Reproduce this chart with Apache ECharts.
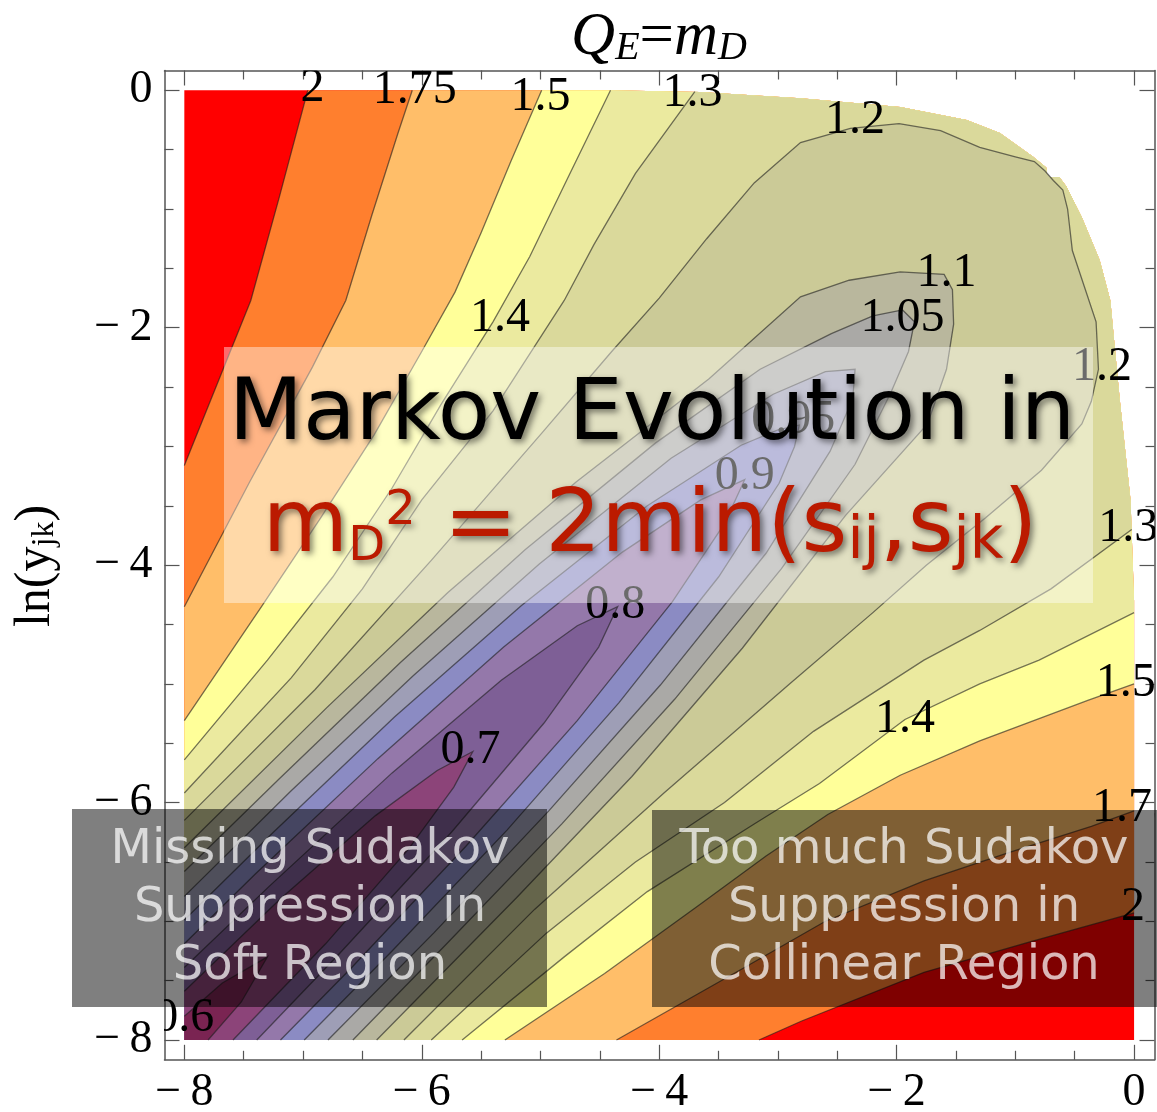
<!DOCTYPE html>
<html><head><meta charset="utf-8">
<script src="https://cdn.jsdelivr.net/npm/echarts@6/dist/echarts.min.js"></script>
<style>html,body{margin:0;padding:0;background:#fff}#c{width:1157px;height:1112px}</style>
</head><body><div id="c"></div>
<script>
// ---------------- data ----------------
const majorTicks = [-8, -6, -4, -2, 0];
const minorTicks = [-7.5, -7, -6.5, -5.5, -5, -4.5, -3.5, -3, -2.5, -1.5, -1, -0.5];
const levels = [2, 1.75, 1.5, 1.4, 1.3, 1.2, 1.1, 1.05, 1.0, 0.95, 0.9, 0.8, 0.7, 0.6];
const colorAbove2 = '#ff0000';
const bandColors = ['#ff7f2e', '#ffbe69', '#ffff99', '#ebea9f', '#dad99b', '#cbca97', '#b9b79d',
  '#aaa9a6', '#9e9eb6', '#8b8bc3', '#9478aa', '#7e5f96', '#8c4479', '#7a2452'];

// upper-right edge of the data region, from (-8,0) clockwise to (0,-8)
const domainEdge = [[-8, 0], [-4.44, 0], [-3.66, -0.015], [-2.81, -0.066], [-1.97, -0.14], [-1.41, -0.25],
  [-1.13, -0.36], [-0.85, -0.56], [-0.74, -0.65], [-0.73, -0.73], [-0.63, -0.73], [-0.57, -0.81],
  [-0.44, -1.07], [-0.29, -1.43], [-0.2, -1.77], [-0.12, -2.61], [-0.03, -3.45], [0, -4.3], [0, -8]];
const corner = [-8, -8];

// contour 2
const c2Up = [[-8, -3.16], [-7.44, -1.77], [-7.2, -0.9], [-6.96, 0]];
const c2Lo = [[0, -6.93], [-0.9, -7.18], [-1.77, -7.43], [-2.8, -7.84], [-3.16, -8]];
// contour 1.75
const c175Up = [[-8, -4.35], [-7.45, -3.3], [-6.92, -2.33], [-6.64, -1.77], [-6.42, -1.05], [-6.2, -0.36], [-6.08, 0]];
const c175Lo = [[0, -6.07], [-0.36, -6.2], [-1.05, -6.42], [-1.77, -6.66], [-2.6, -7.0], [-3.3, -7.4], [-4.36, -8]];
// contour 1.5
const c15Up = [[-8, -5.31], [-7.35, -4.35], [-6.85, -3.6], [-6.4, -2.9], [-6.0, -2.2], [-5.72, -1.7], [-5.5, -1.2], [-5.25, -0.6], [-4.99, 0]];
const c15Lo = [[0, -5.0], [-0.39, -5.14], [-1.3, -5.48], [-1.97, -5.77], [-2.58, -6.1], [-3.1, -6.45], [-3.66, -6.86], [-4.46, -7.44], [-5.3, -8]];
// contour 1.4
const c14Up = [[-8, -5.64], [-7.3, -4.8], [-6.75, -4.1], [-6.25, -3.35], [-5.84, -2.65], [-5.4, -1.95], [-5.09, -1.4], [-4.8, -0.8], [-4.41, 0]];
const c14Lo = [[0, -4.4], [-0.8, -4.8], [-1.3, -5.0], [-1.93, -5.3], [-2.65, -5.84], [-3.2, -6.18], [-4.1, -6.75], [-4.8, -7.3], [-5.66, -8]];
// contour 1.3
const c13Up = [[-8, -5.92], [-7.1, -4.95], [-6.5, -4.2], [-6.0, -3.45], [-5.4, -2.7], [-4.8, -1.77], [-4.55, -1.3], [-4.2, -0.7], [-3.7, -0.01]];
const c13Lo = [[-0.02, -3.7], [-0.7, -4.2], [-1.3, -4.55], [-1.77, -4.8], [-2.7, -5.4], [-3.45, -6.0], [-4.2, -6.5], [-4.95, -7.1], [-5.92, -8]];
// closed tongues (left edge -> apex -> bottom edge)
const c12 = [[-8, -6.15], [-6.9, -5.05], [-5.92, -3.96], [-5.0, -2.9], [-4.4, -2.2], [-4.0, -1.75], [-3.6, -1.25], [-3.2, -0.78],
  [-2.81, -0.44], [-2.39, -0.32], [-1.98, -0.28], [-1.63, -0.34], [-1.3, -0.48], [-1.0, -0.56], [-0.84, -0.6], [-0.75, -0.68],
  [-0.68, -0.76], [-0.6, -0.84], [-0.56, -1.0], [-0.52, -1.35], [-0.42, -1.65], [-0.32, -1.95], [-0.3, -2.35], [-0.36, -2.62],
  [-0.44, -2.81], [-0.78, -3.2], [-1.25, -3.6], [-1.75, -4.0], [-2.2, -4.4], [-2.9, -5.0], [-3.96, -5.92], [-5.05, -6.9], [-6.15, -8]];
const c11 = [[-8, -6.38], [-6.8, -5.2], [-5.78, -4.23], [-4.7, -3.3], [-3.58, -2.43], [-2.81, -1.74], [-2.4, -1.6], [-1.97, -1.53],
  [-1.6, -1.55], [-1.53, -1.68], [-1.52, -1.97], [-1.58, -2.35], [-1.74, -2.81], [-2.43, -3.58], [-3.3, -4.7], [-4.23, -5.78],
  [-5.2, -6.8], [-6.38, -8]];
const c105 = [[-8, -6.58], [-7.2, -5.8], [-6.18, -4.82], [-5.13, -3.87], [-4.03, -2.97], [-3.15, -2.35], [-2.55, -2.05], [-2.2, -1.9],
  [-1.95, -1.85], [-1.85, -1.95], [-1.9, -2.2], [-2.05, -2.55], [-2.35, -3.15], [-2.97, -4.03], [-3.87, -5.13], [-4.82, -6.18],
  [-5.8, -7.2], [-6.58, -8]];
const c100 = [[-8, -6.79], [-7.1, -5.9], [-6.07, -4.93], [-5.01, -3.99], [-3.9, -3.1], [-3.04, -2.56], [-2.6, -2.37], [-2.35, -2.35],
  [-2.37, -2.6], [-2.56, -3.04], [-3.1, -3.9], [-3.99, -5.01], [-4.93, -6.07], [-5.9, -7.1], [-6.79, -8]];
const c095 = [[-8, -6.99], [-7.25, -6.25], [-6.23, -5.28], [-5.16, -4.34], [-4.1, -3.5], [-3.31, -2.99], [-3.0, -2.86], [-2.82, -2.82],
  [-2.86, -3.0], [-2.99, -3.31], [-3.5, -4.1], [-4.34, -5.16], [-5.28, -6.23], [-6.25, -7.25], [-6.99, -8]];
const c090 = [[-8, -7.19], [-7.4, -6.6], [-6.37, -5.63], [-5.31, -4.69], [-4.31, -3.89], [-3.65, -3.45], [-3.28, -3.28],
  [-3.45, -3.65], [-3.89, -4.31], [-4.69, -5.31], [-5.63, -6.37], [-6.6, -7.4], [-7.19, -8]];
const c080 = [[-8, -7.39], [-7.29, -6.71], [-6.25, -5.75], [-5.33, -4.97], [-4.69, -4.51], [-4.35, -4.35],
  [-4.51, -4.69], [-4.97, -5.33], [-5.75, -6.25], [-6.71, -7.29], [-7.39, -8]];
const c070 = [[-8, -7.59], [-7.19, -6.81], [-6.39, -6.11], [-5.87, -5.73], [-5.57, -5.57], [-5.73, -5.87], [-6.11, -6.39], [-6.81, -7.19], [-7.59, -8]];
const c060 = [[-8, -7.8], [-7.68, -7.52], [-7.3, -7.3], [-7.52, -7.68], [-7.8, -8]];

// contour labels: [x, y, text]
const contourLabels = [
  [-6.92, 0.02, '2'], [-6.06, 0.0, '1.75'], [-5.0, -0.06, '1.5'], [-3.72, -0.03, '1.3'], [-2.35, -0.25, '1.2'],
  [-1.58, -1.54, '1.1'], [-1.95, -1.92, '1.05'], [-5.34, -1.92, '1.4'], [-0.27, -2.33, '1.2'], [-2.87, -2.78, '0.95'],
  [-3.28, -3.25, '0.9'], [-0.05, -3.69, '1.3'], [-4.37, -4.34, '0.8'], [-0.07, -5.0, '1.5'], [-1.93, -5.3, '1.4'],
  [-5.59, -5.56, '0.7'], [0.0, -6.05, '1.75'], [-0.01, -6.88, '2'], [-8.0, -7.82, '0.6']
];

// ---------------- build ----------------
const contourShapes = [
  {up: c2Up, lo: c2Lo}, {up: c175Up, lo: c175Lo}, {up: c15Up, lo: c15Lo}, {up: c14Up, lo: c14Lo}, {up: c13Up, lo: c13Lo},
  {path: c12}, {path: c11}, {path: c105}, {path: c100}, {path: c095}, {path: c090}, {path: c080}, {path: c070}, {path: c060}
];
const key = p => p[0] - p[1];

function renderFills(params, api) {
  const P = pts => pts.map(p => api.coord(p));
  const children = [];
  children.push({type: 'polygon', shape: {points: P(domainEdge.concat([corner]))}, style: {fill: colorAbove2}});
  contourShapes.forEach((c, i) => {
    let poly;
    if (c.path) poly = c.path.concat([corner]);
    else {
      const k1 = key(c.up[c.up.length - 1]), k2 = key(c.lo[0]);
      poly = c.up.concat(domainEdge.filter(p => key(p) > k1 && key(p) < k2), c.lo, [corner]);
    }
    children.push({type: 'polygon', shape: {points: P(poly)}, style: {fill: bandColors[i]}});
  });
  contourShapes.forEach(c => {
    (c.path ? [c.path] : [c.up, c.lo]).forEach(line => children.push({
      type: 'polyline', shape: {points: P(line)},
      style: {stroke: 'rgba(30,30,30,0.6)', lineWidth: 1.3, fill: null}
    }));
  });
  return {type: 'group', children};
}

function renderLabels(params, api) {
  const row = contourLabels[params.dataIndex];
  const pt = api.coord([row[0], row[1]]);
  return {type: 'text', x: pt[0], y: pt[1], style: {
    text: row[2], font: '48px "Liberation Serif"', fill: '#000', align: 'center', verticalAlign: 'middle'}};
}

const X0 = -8.167, X1 = 0.172, Y0 = -8.167, Y1 = 0.167;
const fmt = v => (v < 0 ? '\u2212\u2009' + (-v) : String(v));
const frameColor = '#555';
function mkAxis(type, pos, ticks, len, withLabels, showLine) {
  return {
    type: 'value', position: pos, min: type === 'x' ? X0 : Y0, max: type === 'x' ? X1 : Y1,
    axisLine: {show: showLine, onZero: false, lineStyle: {color: frameColor, width: 1.5}},
    axisTick: {show: true, inside: true, length: len, customValues: ticks, lineStyle: {color: frameColor, width: 1.2}},
    axisLabel: withLabels ? {show: true, customValues: majorTicks, formatter: fmt, fontFamily: 'Liberation Serif',
      fontSize: 46, color: '#000', margin: type === 'x' ? 10 : 12} : {show: false},
    splitLine: {show: false}
  };
}

const red = '#bb1a00';
const shadow = {textShadowColor: 'rgba(0,0,0,0.5)', textShadowBlur: 6, textShadowOffsetX: 3, textShadowOffsetY: 3};
const sans = 'DejaVu Sans';

const chart = echarts.init(document.getElementById('c'));
chart.setOption({
  animation: false,
  backgroundColor: '#fff',
  grid: {left: 164.5, right: 2.5, top: 70.5, bottom: 52.2, containLabel: false, outerBoundsMode: 'none'},
  xAxis: [mkAxis('x', 'bottom', majorTicks, 15, true, true), mkAxis('x', 'bottom', minorTicks, 9, false, false),
          mkAxis('x', 'top', majorTicks, 15, false, true), mkAxis('x', 'top', minorTicks, 9, false, false)],
  yAxis: [mkAxis('y', 'left', majorTicks, 15, true, true), mkAxis('y', 'left', minorTicks, 9, false, false),
          mkAxis('y', 'right', majorTicks, 15, false, true), mkAxis('y', 'right', minorTicks, 9, false, false)],
  series: [
    {type: 'custom', renderItem: renderFills, data: [corner], clip: true, silent: true, z: 2},
    {type: 'custom', renderItem: renderLabels, data: contourLabels.map(r => [r[0], r[1]]), clip: true, silent: true, z: 3}
  ],
  graphic: [
    {type: 'text', z: 100, x: 659, y: 68, style: {
      text: '{q|Q}{e|E}{n|=}{q|m}{e|D}', align: 'center', verticalAlign: 'bottom',
      rich: {
        q: {fontSize: 61, fontFamily: 'Liberation Serif', fontStyle: 'italic', fill: '#000', lineHeight: 66, verticalAlign: 'bottom'},
        n: {fontSize: 61, fontFamily: 'Liberation Serif', fill: '#000', lineHeight: 66, verticalAlign: 'bottom'},
        e: {fontSize: 40, fontFamily: 'Liberation Serif', fontStyle: 'italic', fill: '#000', lineHeight: 40, verticalAlign: 'bottom'}
      }}},
    {type: 'text', z: 100, x: 33, y: 566, rotation: Math.PI / 2, style: {
      text: '{a|ln(y}{s|jk}{a|)}', align: 'center', verticalAlign: 'middle',
      rich: {
        a: {fontSize: 50, fontFamily: 'Liberation Serif', fill: '#000', lineHeight: 56, verticalAlign: 'bottom'},
        s: {fontSize: 32, fontFamily: 'Liberation Serif', fill: '#000', lineHeight: 19, verticalAlign: 'bottom'}
      }}},
    {type: 'rect', z: 100, shape: {x: 224, y: 347, width: 869, height: 256}, style: {fill: 'rgba(255,255,255,0.42)'}},
    {type: 'text', z: 101, x: 652, y: 417, style: Object.assign({
      text: 'Markov Evolution in', font: '86px "DejaVu Sans"', fill: '#000', align: 'center', verticalAlign: 'middle'}, shadow)},
    {type: 'text', z: 101, x: 650, y: 572, style: {
      text: '{m|m}{sd|D}{sp|2}{m| = 2min(s}{ss|ij}{m|,s}{ss|jk}{m|)}', align: 'center', verticalAlign: 'bottom',
      rich: {
        m: Object.assign({fontSize: 88, fontFamily: sans, fill: red, lineHeight: 100, verticalAlign: 'bottom'}, shadow),
        sd: Object.assign({fontSize: 48, fontFamily: sans, fill: red, lineHeight: 62, verticalAlign: 'bottom'}, shadow),
        sp: Object.assign({fontSize: 48, fontFamily: sans, fill: red, lineHeight: 62, padding: [0, 0, 36, 0], verticalAlign: 'bottom'}, shadow),
        ss: Object.assign({fontSize: 58, fontFamily: sans, fill: red, lineHeight: 69, verticalAlign: 'bottom'}, shadow)
      }}},
    {type: 'rect', z: 102, shape: {x: 72, y: 809, width: 475, height: 198}, style: {fill: 'rgba(0,0,0,0.5)'}},
    {type: 'rect', z: 102, shape: {x: 652, y: 810, width: 505, height: 197}, style: {fill: 'rgba(0,0,0,0.5)'}},
    {type: 'text', z: 103, x: 310, y: 822, style: {
      text: 'Missing Sudakov\nSuppression in\nSoft Region', font: '48px "DejaVu Sans"', lineHeight: 58,
      fill: 'rgba(255,255,255,0.72)', align: 'center', verticalAlign: 'top'}},
    {type: 'text', z: 103, x: 904, y: 822, style: {
      text: 'Too much Sudakov\nSuppression in\nCollinear Region', font: '48px "DejaVu Sans"', lineHeight: 58,
      fill: 'rgba(255,255,255,0.72)', align: 'center', verticalAlign: 'top'}}
  ]
});
</script></body></html>
